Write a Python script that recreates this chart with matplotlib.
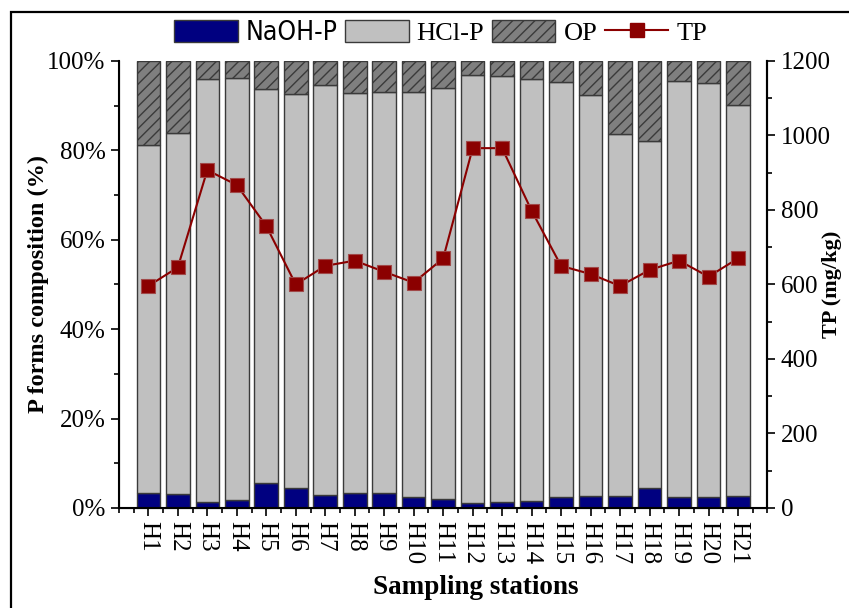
import matplotlib
matplotlib.use("Agg")
import matplotlib.pyplot as plt
import numpy as np
from matplotlib import font_manager
from matplotlib.patches import Rectangle
from matplotlib.lines import Line2D
from matplotlib.ticker import MultipleLocator, PercentFormatter

# datos
estaciones = ["H%d" % i for i in range(1, 22)]
naoh_p = [3.4, 3.1, 1.3, 1.7, 5.5, 4.5, 2.9, 3.3, 3.4, 2.4, 1.9,
          1.2, 1.3, 1.5, 2.5, 2.7, 2.7, 4.4, 2.4, 2.4, 2.7]
op = [18.9, 16.2, 4.0, 3.7, 6.2, 7.3, 5.3, 7.2, 6.9, 7.0, 6.1,
      3.2, 3.4, 4.0, 4.8, 7.6, 16.3, 17.8, 4.4, 5.0, 9.9]
hcl_p = [100 - a - b for a, b in zip(naoh_p, op)]
tp = [596, 646, 907, 867, 757, 600, 650, 664, 634, 605, 670,
      966, 966, 798, 650, 628, 596, 639, 664, 621, 670]
tp_err = [4, 4, 5, 5, 4, 4, 4, 4, 4, 4, 4,
          6, 18, 5, 4, 4, 4, 4, 4, 4, 4]

nombres = [f.name for f in font_manager.fontManager.ttflist]
serif = "Liberation Serif"
if "Liberation Sans Narrow" in nombres:
    narrow = dict(family="Liberation Sans Narrow")
else:
    narrow = dict(family="DejaVu Sans", stretch="condensed")

plt.rcParams["font.family"] = serif
plt.rcParams["hatch.linewidth"] = 1.0

fig = plt.figure(figsize=(8.49, 6.08), dpi=100)
ax = fig.add_axes([0.140, 0.1645, 0.764, 0.7352])

x = np.arange(1, 22)
ancho = 0.8
borde = "#3a3a3a"
b1 = ax.bar(x, naoh_p, ancho, color="#000080", edgecolor=borde, linewidth=1.0)
b2 = ax.bar(x, hcl_p, ancho, bottom=naoh_p, color="#c0c0c0", edgecolor=borde, linewidth=1.0)
abajo = [a + b for a, b in zip(naoh_p, hcl_p)]
b3 = ax.bar(x, op, ancho, bottom=abajo, color="#7f7f7f", edgecolor="black", hatch="///",
            linewidth=1.0)
for p in b3:
    p.set_edgecolor(borde)

ax.set_xlim(0, 22)
ax.set_ylim(0, 100)
ax.set_xticks(x)
ax.set_xticklabels(estaciones, rotation=-90, fontsize=18)
ax.xaxis.set_minor_locator(MultipleLocator(0.5))
ax.yaxis.set_major_locator(MultipleLocator(20))
ax.yaxis.set_minor_locator(MultipleLocator(10))
ax.yaxis.set_major_formatter(PercentFormatter(decimals=0))
ax.tick_params(axis="both", which="major", direction="out", length=6, width=1.2, labelsize=18)
ax.tick_params(axis="both", which="minor", direction="out", length=3.5, width=1.2)
ax.spines["top"].set_visible(False)
for s in ["left", "bottom", "right"]:
    ax.spines[s].set_linewidth(1.5)
ax.set_ylabel("P forms composition (%)", fontsize=17.5, fontweight="bold", labelpad=-1)
ax.set_xlabel("Sampling stations", fontsize=19.5, fontweight="bold", labelpad=0)
ax.xaxis.set_label_coords(0.55, -0.15)

ax2 = ax.twinx()
rojo = "#8b0000"
ax2.errorbar(x, tp, yerr=tp_err, color=rojo, marker="s", markersize=9.5, linewidth=1.5,
             ecolor=rojo, elinewidth=1.0, capsize=3, markeredgecolor="#a04848",
             markeredgewidth=0.8)
ax2.set_ylim(0, 1200)
ax2.yaxis.set_major_locator(MultipleLocator(200))
ax2.yaxis.set_minor_locator(MultipleLocator(100))
ax2.tick_params(axis="y", which="major", direction="out", length=6, width=1.2, labelsize=18)
ax2.tick_params(axis="y", which="minor", direction="out", length=3.5, width=1.2)
ax2.spines["top"].set_visible(False)
ax2.spines["right"].set_linewidth(1.5)
ax2.set_ylabel("TP (mg/kg)", fontsize=16, fontweight="bold")
ax2.yaxis.set_label_coords(1.084, 0.5)

h_tp = Line2D([], [], color=rojo, marker="s", markersize=9.5, linewidth=1.5)
leg = fig.legend([b1, b2, b3, h_tp], ["NaOH-P", "HCl-P", "OP", "TP"], loc="center",
                 bbox_to_anchor=(0.519, 0.946), ncol=4, frameon=False, fontsize=19,
                 handlelength=2.4, handleheight=0.9, handletextpad=0.3, columnspacing=0.3,
                 borderpad=0.1)
leg.get_texts()[0].set(**narrow)
leg.get_texts()[0].set_fontsize(19)

# marco de la figura
fig.patches.append(Rectangle((11 / 849, -0.05), 1.0, 1 - 12 / 608 + 0.05,
                             transform=fig.transFigure, fill=False, edgecolor="black",
                             linewidth=1.6, figure=fig))

fig.savefig("out.png", dpi=100)
